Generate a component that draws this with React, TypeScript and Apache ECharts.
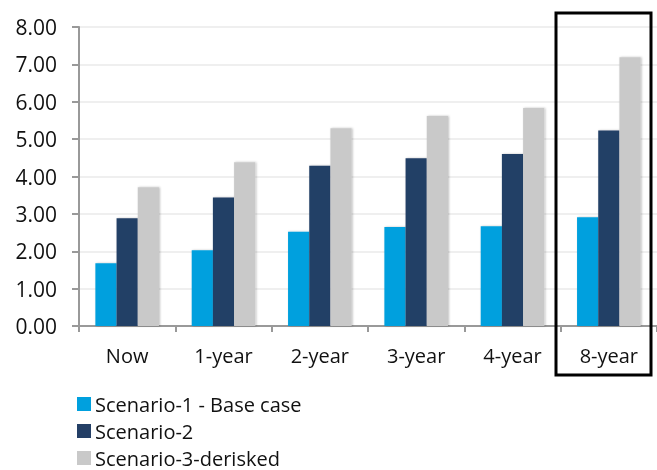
import React, { useEffect, useRef } from "react";
import * as echarts from "echarts";

const categories = ["Now", "1-year", "2-year", "3-year", "4-year", "8-year"];
const scenario1 = [1.68, 2.03, 2.52, 2.65, 2.67, 2.91];
const scenario2 = [2.88, 3.44, 4.29, 4.49, 4.6, 5.23];
const scenario3 = [3.71, 4.38, 5.29, 5.62, 5.83, 7.19];
const seriesNames = ["Scenario-1 - Base case", "Scenario-2", "Scenario-3-derisked"];
const colors = ["#00A0DE", "#243F66", "#C9C9C9"];

export default function App() {
  const ref = useRef<HTMLDivElement>(null);
  useEffect(() => {
    if (!ref.current) return;
    const chart = echarts.init(ref.current, undefined, { renderer: "svg" });
    const font = "'Open Sans', 'Noto Sans', sans-serif";
    const mk = (name: string, data: number[], color: string) => ({
      name,
      type: "bar",
      data,
      barGap: "0%",
      barCategoryGap: "34%",
      itemStyle: {
        color,
        shadowColor: "rgba(0,0,0,0.25)",
        shadowBlur: 2,
        shadowOffsetX: 1,
        shadowOffsetY: 0,
      },
    });
    chart.setOption({
      animation: false,
      textStyle: { fontFamily: font },
      grid: { left: 79, top: 27, width: 582, height: 299, containLabel: false },
      legend: {
        orient: "vertical",
        left: 77,
        top: 394,
        height: 74,
        padding: 0,
        itemWidth: 14,
        itemHeight: 14,
        itemGap: 7,
        icon: "rect",
        textStyle: { fontSize: 20, lineHeight: 20, color: "#111", fontFamily: font, padding: [0, 0, 0, -1] },
        data: seriesNames,
      },
      xAxis: {
        type: "category",
        data: categories,
        axisLine: { lineStyle: { color: "#999", width: 2 } },
        axisTick: { show: true, length: 6, lineStyle: { color: "#999", width: 2 }, alignWithLabel: false },
        axisLabel: { fontSize: 20, color: "#111", margin: 19, fontFamily: font },
        splitLine: { show: false },
      },
      yAxis: {
        type: "value",
        min: 0,
        max: 8,
        interval: 1,
        axisLine: { show: true, lineStyle: { color: "#999", width: 2 } },
        axisTick: { show: true, length: 7, lineStyle: { color: "#999", width: 2 } },
        axisLabel: {
          fontSize: 21,
          color: "#111",
          margin: 22,
          fontFamily: font,
          formatter: (v: number) => v.toFixed(2),
        },
        splitLine: { show: true, lineStyle: { color: "#EFEFEF", width: 2 } },
      },
      series: [
        mk(seriesNames[0], scenario1, colors[0]),
        mk(seriesNames[1], scenario2, colors[1]),
        mk(seriesNames[2], scenario3, colors[2]),
      ],
      graphic: [
        {
          type: "rect",
          shape: { x: 556, y: 13, width: 95, height: 362 },
          style: { fill: "none", stroke: "#000", lineWidth: 3 },
          z: 100,
        },
      ],
    });
    return () => chart.dispose();
  }, []);
  return (
    <div
      ref={ref}
      style={{ position: "fixed", left: 0, top: 0, width: 657, height: 470, overflow: "hidden" }}
    />
  );
}
